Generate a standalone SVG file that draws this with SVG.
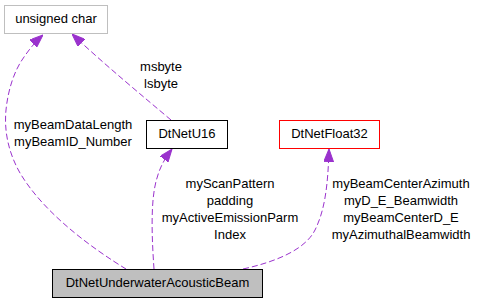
<svg xmlns="http://www.w3.org/2000/svg" width="478" height="304" viewBox="0 0 478 304">
<style>
text{font-family:"Liberation Sans",Arial,Helvetica,sans-serif;font-size:13px;fill:#000;text-anchor:middle}
.box{fill:#fff;stroke-width:1}
.edge{fill:none;stroke:#9a32cd;stroke-width:1;stroke-dasharray:6,3}
</style>
<defs>
<marker id="arr" viewBox="0 0 13 10" refX="13" refY="5" markerWidth="13" markerHeight="10" markerUnits="userSpaceOnUse" orient="auto">
<path d="M0,0 L13,5 L0,10 Z" fill="#9a32cd" stroke="#9a32cd" stroke-width="1"/>
</marker>
</defs>
<rect width="478" height="304" fill="#fff"/>
<g id="edges">
<path class="edge" marker-end="url(#arr)" d="M126,269 C95,250 45,215 20,173 C8,152 4,130 6,110 C8,90 14,72 22,60 C28,51 34,43 43,35"/>
<path class="edge" marker-end="url(#arr)" d="M171,120 C145,98 105,65 72,34"/>
<path class="edge" marker-end="url(#arr)" d="M154,269 C152,240 150,200 157,178 C160,167 165,158 172,149"/>
<path class="edge" marker-end="url(#arr)" d="M243,269 C275,262 305,250 315,230 C325,210 328,185 329,149"/>
</g>
<g id="labels">
<text x="73" y="129">myBeamDataLength</text>
<text x="73" y="146">myBeamID_Number</text>
<text x="161" y="71">msbyte</text>
<text x="161" y="87.5">lsbyte</text>
<text x="230" y="188">myScanPattern</text>
<text x="230" y="205">padding</text>
<text x="230" y="222">myActiveEmissionParm</text>
<text x="230" y="239">Index</text>
<text x="401" y="188">myBeamCenterAzimuth</text>
<text x="401" y="205">myD_E_Beamwidth</text>
<text x="401" y="222">myBeamCenterD_E</text>
<text x="401" y="239">myAzimuthalBeamwidth</text>
</g>
<g id="node-unsigned-char">
<rect class="box" x="4.5" y="5.5" width="103" height="28" stroke="#bfbfbf"/>
<text x="56" y="22.5">unsigned char</text>
</g>
<g id="node-DtNetU16">
<rect class="box" x="146.5" y="120.5" width="81" height="28" stroke="#000"/>
<text x="187" y="137.5">DtNetU16</text>
</g>
<g id="node-DtNetFloat32">
<rect class="box" x="279.5" y="120.5" width="100" height="28" stroke="#ff0000"/>
<text x="329.5" y="137.5">DtNetFloat32</text>
</g>
<g id="node-DtNetUnderwaterAcousticBeam">
<rect x="52.5" y="269.5" width="210" height="28" fill="#bfbfbf" stroke="#000" stroke-width="1"/>
<text x="157.5" y="286.5">DtNetUnderwaterAcousticBeam</text>
</g>
</svg>
